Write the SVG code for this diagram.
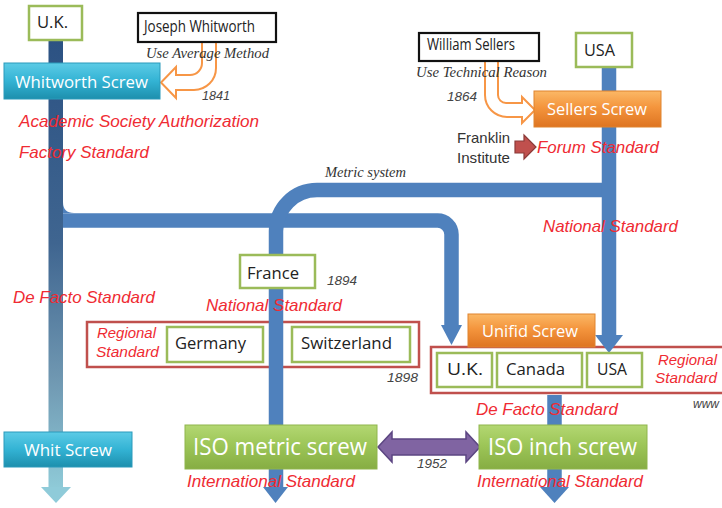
<svg xmlns="http://www.w3.org/2000/svg" width="722" height="508" viewBox="0 0 722 508">
  <style>
    .red { fill: #ef2b33; font-family: "Liberation Sans", Arial, sans-serif; font-style: italic; font-size: 17px; }
    .reg { fill: #ef2b33; font-family: "Liberation Sans", Arial, sans-serif; font-style: italic; font-size: 15px; }
    .lbl { fill: #222; font-family: "Open Sans", "Liberation Sans", sans-serif; font-size: 16px; }
    .wht { fill: #ffffff; font-family: "Open Sans", "Liberation Sans", sans-serif; font-size: 17px; }
    .big { font-size: 23px; }
    .srf { fill: #333; font-family: "Liberation Serif", "Times New Roman", serif; font-style: italic; font-size: 15px; }
    .num { fill: #444; font-family: "Liberation Sans", Arial, sans-serif; font-style: italic; font-size: 12px; }
    .gbox { fill: #ffffff; stroke: #9bbb59; stroke-width: 2.5; }
    .kbox { fill: #ffffff; stroke: #111; stroke-width: 2.2; }
    .rbox { fill: none; stroke: #c0504d; stroke-width: 2.5; }
    .flow { fill: none; stroke: #4f81bd; stroke-width: 14.5; }
    .head { fill: #4f81bd; }
    .hollow { fill: #ffffff; stroke: #f79646; stroke-width: 2; stroke-linejoin: miter; }
  </style>
  <defs>
    <linearGradient id="gTrunk" gradientUnits="userSpaceOnUse" x1="0" y1="41" x2="0" y2="490">
      <stop offset="0" stop-color="#2c5283"/>
      <stop offset="0.45" stop-color="#3f6590"/>
      <stop offset="0.75" stop-color="#6f97b1"/>
      <stop offset="1" stop-color="#8fcbd8"/>
    </linearGradient>
    <linearGradient id="gCyan" x1="0" y1="0" x2="0" y2="1">
      <stop offset="0" stop-color="#5ccbe6"/>
      <stop offset="0.5" stop-color="#33b3d4"/>
      <stop offset="1" stop-color="#1d8fad"/>
    </linearGradient>
    <linearGradient id="gOrange" x1="0" y1="0" x2="0" y2="1">
      <stop offset="0" stop-color="#fbb866"/>
      <stop offset="0.45" stop-color="#f4953d"/>
      <stop offset="1" stop-color="#de7421"/>
    </linearGradient>
    <linearGradient id="gGreen" x1="0" y1="0" x2="0" y2="1">
      <stop offset="0" stop-color="#b3d772"/>
      <stop offset="0.45" stop-color="#9dc658"/>
      <stop offset="1" stop-color="#86ad43"/>
    </linearGradient>
  </defs>

  <!-- regional groupings (drawn under the flows) -->
  <g id="regional-europe">
    <rect class="rbox" x="87" y="322" width="332" height="45"/>
    <text class="reg" x="97" y="338" textLength="59" lengthAdjust="spacingAndGlyphs">Regional</text>
    <text class="reg" x="96" y="357" textLength="63" lengthAdjust="spacingAndGlyphs">Standard</text>
  </g>
  <g id="regional-unified">
    <rect class="rbox" x="431" y="347" width="300" height="46"/>
    <text class="reg" x="658" y="365" textLength="59" lengthAdjust="spacingAndGlyphs">Regional</text>
    <text class="reg" x="655" y="383" textLength="62" lengthAdjust="spacingAndGlyphs">Standard</text>
  </g>

  <!-- connectors -->
  <g id="connectors">
    <!-- U.K. branch to the unified screw -->
    <path class="flow" d="M56,220.5 H437 A14,14 0 0 1 451.5,234.5 V326"/>
    <path class="head" d="M63,202 Q63,213 74,213 H63 Z"/>
    <polygon class="head" points="441,325 462,325 451.5,345"/>
    <!-- metric system: USA trunk over to France and down -->
    <path class="flow" d="M609,190 H317 A41,41 0 0 0 276,231 V488"/>
    <polygon class="head" points="263,487 288,487 275.5,503"/>
    <!-- USA trunk -->
    <path class="flow" d="M609,66 V336"/>
    <polygon class="head" points="595,335 623,335 609,353"/>
    <!-- unified to ISO inch -->
    <path class="flow" d="M554.5,395 V488"/>
    <polygon class="head" points="540,487 569,487 554.5,503"/>
    <!-- U.K. trunk -->
    <rect x="48.5" y="40" width="14.5" height="448" fill="url(#gTrunk)"/>
    <polygon points="41,487 71,487 56,503" fill="#8fcbd9"/>
    <!-- Whitworth: average method -->
    <path class="hollow" d="M202,42 V63 A12,12 0 0 1 190,75 H176 V67 L161,82.5 L176,98 V90 H194 A22,22 0 0 0 216,68 V42"/>
    <!-- Sellers: technical reason -->
    <path class="hollow" d="M485,61 V95 A22,22 0 0 0 507,117 H522 V123 L535,110 L522,97 V103 H506 A8,8 0 0 1 498,95 V61"/>
    <!-- Franklin Institute -->
    <polygon points="515,141 524,141 524,135 536,147 524,159 524,153 515,153" fill="#c0504d" stroke="#8b3a38" stroke-width="1.2"/>
    <!-- ISO metric / ISO inch, 1952 -->
    <polygon points="378,447 392,432 392,439 466,439 466,432 480,447 466,462 466,455 392,455 392,462" fill="#8064a2" stroke="#5c4682" stroke-width="1.5"/>
  </g>

  <!-- nodes -->
  <g id="uk">
    <rect class="gbox" x="29" y="6" width="53" height="34"/>
    <text class="lbl" x="37" y="28" textLength="31" lengthAdjust="spacingAndGlyphs">U.K.</text>
  </g>
  <g id="joseph-whitworth">
    <rect class="kbox" x="138" y="13" width="138" height="29"/>
    <text class="lbl" x="144" y="32" font-size="14" fill="#111" textLength="111" lengthAdjust="spacingAndGlyphs">Joseph Whitworth</text>
  </g>
  <g id="whitworth-screw">
    <rect x="4" y="63" width="156" height="36" fill="url(#gCyan)" stroke="#2a9abb" stroke-width="1"/>
    <text class="wht" x="15" y="88" textLength="133" lengthAdjust="spacingAndGlyphs">Whitworth Screw</text>
  </g>
  <g id="william-sellers">
    <rect class="kbox" x="419" y="33" width="120" height="28"/>
    <text class="lbl" x="427" y="50" font-size="14" fill="#111" textLength="88" lengthAdjust="spacingAndGlyphs">William Sellers</text>
  </g>
  <g id="usa">
    <rect class="gbox" x="576" y="33" width="56" height="34"/>
    <text class="lbl" x="584" y="56" font-size="17" textLength="31" lengthAdjust="spacingAndGlyphs">USA</text>
  </g>
  <g id="sellers-screw">
    <rect x="534" y="91" width="127" height="36" fill="url(#gOrange)" stroke="#e0842f" stroke-width="1"/>
    <text class="wht" x="547" y="115" textLength="100" lengthAdjust="spacingAndGlyphs">Sellers Screw</text>
  </g>
  <g id="france">
    <rect class="gbox" x="240" y="255" width="75" height="33"/>
    <text class="lbl" x="247" y="279" textLength="52" lengthAdjust="spacingAndGlyphs">France</text>
  </g>
  <g id="germany">
    <rect class="gbox" x="167" y="327" width="96" height="35"/>
    <text class="lbl" x="175" y="349" textLength="71" lengthAdjust="spacingAndGlyphs">Germany</text>
  </g>
  <g id="switzerland">
    <rect class="gbox" x="292" y="327" width="118" height="35"/>
    <text class="lbl" x="301" y="349" textLength="91" lengthAdjust="spacingAndGlyphs">Switzerland</text>
  </g>
  <g id="unified-screw">
    <rect x="468" y="314" width="127" height="33" fill="url(#gOrange)" stroke="#e0842f" stroke-width="1"/>
    <text class="wht" x="482" y="337" textLength="96" lengthAdjust="spacingAndGlyphs">Unifid Screw</text>
  </g>
  <g id="uk-unified">
    <rect class="gbox" x="437" y="353" width="55" height="34"/>
    <text class="lbl" x="447" y="375" textLength="36" lengthAdjust="spacingAndGlyphs">U.K.</text>
  </g>
  <g id="canada">
    <rect class="gbox" x="497" y="353" width="85" height="34"/>
    <text class="lbl" x="506" y="375" textLength="59" lengthAdjust="spacingAndGlyphs">Canada</text>
  </g>
  <g id="usa-unified">
    <rect class="gbox" x="587" y="353" width="55" height="34"/>
    <text class="lbl" x="597" y="375" textLength="30" lengthAdjust="spacingAndGlyphs">USA</text>
  </g>
  <g id="whit-screw">
    <rect x="4" y="432" width="128" height="35" fill="url(#gCyan)" stroke="#2a9abb" stroke-width="1"/>
    <text class="wht" x="24" y="456" textLength="88" lengthAdjust="spacingAndGlyphs">Whit Screw</text>
  </g>
  <g id="iso-metric">
    <rect x="185" y="425" width="192" height="44" fill="url(#gGreen)" stroke="#8fb54d" stroke-width="1"/>
    <text class="wht big" x="193" y="455" textLength="174" lengthAdjust="spacingAndGlyphs">ISO metric screw</text>
  </g>
  <g id="iso-inch">
    <rect x="479" y="425" width="168" height="44" fill="url(#gGreen)" stroke="#8fb54d" stroke-width="1"/>
    <text class="wht big" x="488" y="455" textLength="149" lengthAdjust="spacingAndGlyphs">ISO inch screw</text>
  </g>
  <g id="franklin">
    <text x="457" y="143" font-family="Liberation Sans, Arial, sans-serif" font-size="15" fill="#333" textLength="53" lengthAdjust="spacingAndGlyphs">Franklin</text>
    <text x="457" y="163" font-family="Liberation Sans, Arial, sans-serif" font-size="15" fill="#333" textLength="53" lengthAdjust="spacingAndGlyphs">Institute</text>
  </g>

  <!-- annotations -->
  <g id="annotations">
    <text class="srf" x="146" y="58" textLength="123" lengthAdjust="spacingAndGlyphs">Use Average Method</text>
    <text class="srf" x="416" y="77" textLength="131" lengthAdjust="spacingAndGlyphs">Use Technical Reason</text>
    <text class="srf" x="325" y="177" font-size="13" textLength="81" lengthAdjust="spacingAndGlyphs">Metric system</text>
    <text class="num" x="202" y="100" textLength="28" lengthAdjust="spacingAndGlyphs">1841</text>
    <text class="num" x="447" y="101" textLength="30" lengthAdjust="spacingAndGlyphs">1864</text>
    <text class="num" x="327" y="285" textLength="30" lengthAdjust="spacingAndGlyphs">1894</text>
    <text class="num" x="387" y="382" textLength="31" lengthAdjust="spacingAndGlyphs">1898</text>
    <text class="num" x="417" y="468" textLength="30" lengthAdjust="spacingAndGlyphs">1952</text>
    <text class="num" x="693" y="408">www</text>
    <text class="red" x="19" y="127" textLength="240" lengthAdjust="spacingAndGlyphs">Academic Society Authorization</text>
    <text class="red" x="19" y="158" textLength="130" lengthAdjust="spacingAndGlyphs">Factory Standard</text>
    <text class="red" x="537" y="153" textLength="122" lengthAdjust="spacingAndGlyphs">Forum Standard</text>
    <text class="red" x="543" y="232" textLength="135" lengthAdjust="spacingAndGlyphs">National Standard</text>
    <text class="red" x="13" y="303" textLength="142" lengthAdjust="spacingAndGlyphs">De Facto Standard</text>
    <text class="red" x="206" y="311" textLength="136" lengthAdjust="spacingAndGlyphs">National Standard</text>
    <text class="red" x="476" y="415" textLength="142" lengthAdjust="spacingAndGlyphs">De Facto Standard</text>
    <text class="red" x="187" y="487" textLength="168" lengthAdjust="spacingAndGlyphs">International Standard</text>
    <text class="red" x="477" y="487" textLength="166" lengthAdjust="spacingAndGlyphs">International Standard</text>
  </g>
</svg>
